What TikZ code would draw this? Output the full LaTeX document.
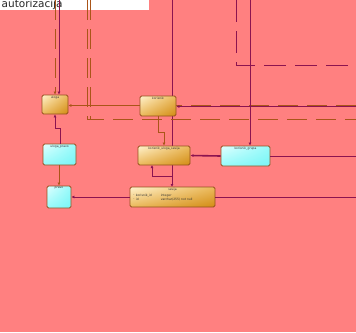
\documentclass[tikz,border=0pt]{standalone}
\usepackage{fontspec}
\newfontfamily\dejavu{DejaVu Sans}
\usetikzlibrary{arrows.meta,shadings}

\definecolor{bgpink}{RGB}{255,128,128}
\definecolor{relpurple}{RGB}{140,20,80}
\definecolor{fkbrown}{RGB}{170,85,25}
\definecolor{boxedge}{RGB}{150,80,30}
\definecolor{entlight}{RGB}{255,242,205}
\definecolor{entmid}{RGB}{235,185,90}
\definecolor{entdark}{RGB}{210,140,20}
\definecolor{lnklight}{RGB}{225,255,255}
\definecolor{lnkmid}{RGB}{150,250,250}
\definecolor{lnkdark}{RGB}{120,245,245}

\begin{document}
\begin{tikzpicture}[x=1pt, y=-1pt,
    tbl/.style={draw=boxedge, line width=0.9pt, rounded corners=1.5pt, inner sep=0pt},
    ent/.style={tbl, upper left=entlight, upper right=entmid, lower left=entmid, lower right=entdark},
    lnk/.style={tbl, upper left=lnklight, upper right=lnkmid, lower left=lnkmid, lower right=lnkdark},
    hdr/.style={anchor=north, inner sep=1pt, text=black!80, font=\dejavu\fontsize{3}{3.6}\selectfont},
    rel/.style={draw=relpurple, line width=0.9pt, -{Latex[length=3pt,width=3pt]}},
    fk/.style={draw=fkbrown, line width=0.9pt, dash pattern=on 20pt off 9pt},
    fkarr/.style={draw=fkbrown, line width=0.9pt, -{Latex[length=3pt,width=3pt]}}]
  \fill[bgpink] (0,0) rectangle (356,332);
  \useasboundingbox (0,0) rectangle (356,332);

  % package label
  \fill[white] (0,0) rectangle (149,9.5);
  \node[anchor=base west, inner sep=0pt, font=\dejavu\fontsize{10.5}{10.5}\selectfont, text=black!85] (pkg) at (1.5,7.5) {autorizacija};

  % free ends
  \coordinate (t1) at (59,0);
  \coordinate (t2) at (55,0);
  \coordinate (t3) at (87,0);
  \coordinate (t4) at (90,0);
  \coordinate (t5) at (236,0);
  \coordinate (t6) at (250,0);
  \coordinate (t7) at (172,0);
  \coordinate (e1) at (356,105);
  \coordinate (e2) at (356,106.5);
  \coordinate (e3) at (356,119);
  \coordinate (e4) at (356,65);
  \coordinate (e5) at (356,156);
  \coordinate (e6) at (356,197);
  \coordinate (j1) at (172,176);

  % lines that pass behind the tables
  \draw[rel] (t7) -- (172,187);
  \draw[fk] (e1) -- (68,105);
  \draw[fk] (t3) -- (87,119) -- (e3);
  \draw[fk] (t4) -- (90,119);
  \draw[draw=relpurple, line width=0.9pt, dash pattern=on 22pt off 9pt] (t5) -- (236,65) -- (e4);

  % tables
  \node[ent, minimum width=26pt, minimum height=19pt, label={[hdr]north:uloga}] (uloga) at (55,104.5) {};
  \node[ent, minimum width=36pt, minimum height=20pt, label={[hdr]north:korisnik}] (korisnik) at (158,106) {};
  \node[lnk, minimum width=33pt, minimum height=21pt, label={[hdr]north:uloga\_pravo}] (ulogapravo) at (59.5,154.5) {};
  \node[ent, minimum width=52pt, minimum height=19pt, label={[hdr]north:korisnik\_uloga\_sesija}] (korisnikuloga) at (164,155.5) {};
  \node[lnk, minimum width=49pt, minimum height=20pt, label={[hdr]north:korisnik\_grupa}] (korgrupa) at (245.5,156) {};
  \node[lnk, minimum width=24pt, minimum height=22pt, label={[hdr]north:pravo}] (pravo) at (59,197) {};
  \node[ent, minimum width=85pt, minimum height=20pt] (sesija) at (172.5,197) {};
  \node[hdr, anchor=north] (sesijahdr) at (sesija.north) {sesija};
  \node[hdr, anchor=north west, align=left] (sesijaa) at ([xshift=2pt,yshift=-6.5pt]sesija.north west) {$\cdot$ korisnik\_id\\ $\cdot$ id};
  \node[hdr, anchor=north west, align=left] (sesijab) at ([xshift=30pt,yshift=-6.5pt]sesija.north west) {integer\\ varchar(255) not null};

  % connectors
  \draw[rel] (t1) -- (t1 |- uloga.north);
  \draw[fkarr, dash pattern=on 20pt off 9pt] (t2) -- (t2 |- uloga.north);
  \draw[fkarr] ([yshift=0.5pt]korisnik.west) -- ([yshift=0.5pt]korisnik.west -| uloga.east);
  \draw[rel, {Latex[length=3pt,width=3pt]}-] (korisnik.east |- e2) -- (e2);
  \draw[rel] (t6) -- (t6 |- korgrupa.north);
  \draw[fkarr] (158,116) -- (158,132) -- (164,132) -- (164,0 |- korisnikuloga.north);
  \draw[rel] (ulogapravo.north -| 60,0) -- (60,128) -- (55,128) -- (55,0 |- uloga.south);
  \draw[fkarr] (ulogapravo.south -| 59,0) -- (59,0 |- pravo.north);
  \draw[rel] (sesija.west) -- (pravo.east);
  \draw[draw=relpurple, line width=0.9pt] (sesija.east) -- (e6);
  \draw[rel, line width=1.6pt] (korgrupa.west) -- (korisnikuloga.east);
  \draw[draw=relpurple, line width=0.9pt] (korgrupa.east) -- (e5);
  \draw[rel, {Latex[length=3pt,width=3pt]}-] (152,165) -- (152,176) -- (j1);
\end{tikzpicture}
\end{document}
